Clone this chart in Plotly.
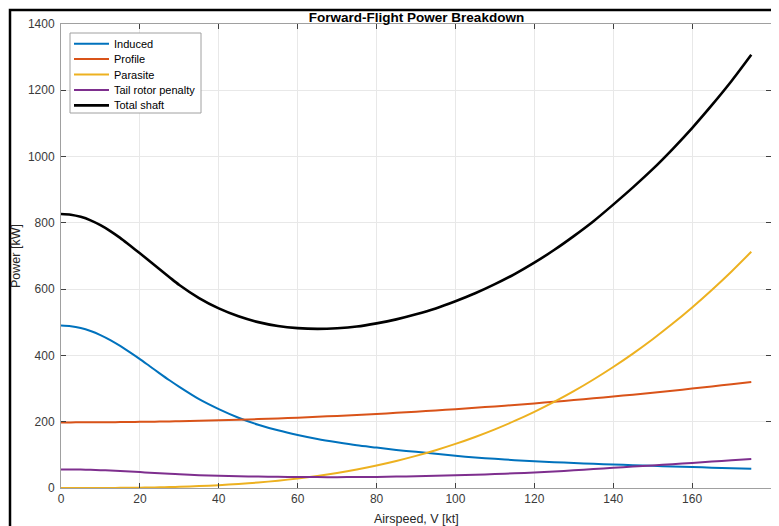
import plotly.graph_objects as go

airspeed_kt = [0, 2.5, 5, 7.5, 10, 12.5, 15, 17.5, 20, 22.5, 25, 27.5, 30, 35, 40, 45,
               50, 55, 60, 65, 70, 75, 80, 85, 90, 95, 100, 105, 110, 115, 120, 125,
               130, 135, 140, 145, 150, 155, 160, 165, 170, 175]

induced_kw = [490, 488.2, 482.7, 473.7, 461.5, 446.3, 428.7, 409.3, 389, 367.5, 346, 325,
              305, 268, 238, 212, 191, 174, 160, 148, 138, 129, 122, 115, 109, 103, 97,
              92, 88, 84, 81, 78, 75.5, 73, 71, 69, 67, 65, 63.2, 61.4, 59.6, 57.8]

profile_kw = [198.0, 198.0, 198.1, 198.2, 198.4, 198.6, 198.9, 199.2, 199.6, 200.0,
              200.5, 201.0, 201.6, 202.9, 204.4, 206.1, 208.0, 210.0, 212.3, 214.8,
              217.5, 220.4, 223.5, 226.8, 230.2, 233.9, 237.8, 241.9, 246.2, 250.6,
              255.3, 260.2, 265.3, 270.5, 276.0, 281.7, 287.6, 293.6, 299.9, 306.4,
              313.0, 319.9]

parasite_kw = [0.0, 0.0, 0.0, 0.1, 0.1, 0.3, 0.4, 0.7, 1.1, 1.5, 2.1, 2.8, 3.6, 5.7,
               8.5, 12.1, 16.6, 22.1, 28.7, 36.5, 45.6, 56.1, 68.1, 81.7, 97.0, 114.0,
               133.0, 154.0, 177.0, 202.3, 229.8, 259.8, 292.2, 327.3, 365.0, 405.5,
               448.9, 495.3, 544.8, 597.5, 653.4, 712.8]

tail_kw = [56.1, 55.9, 55.5, 54.8, 53.8, 52.6, 51.2, 49.6, 47.9, 46.3, 44.6, 43.0, 41.5,
           38.8, 36.7, 35.4, 34.5, 33.8, 33.2, 32.9, 32.8, 33.0, 33.5, 34.4, 35.5, 36.8,
           38.3, 40.0, 42.0, 44.2, 46.5, 49.8, 53.3, 57.0, 60.8, 64.5, 68.2, 72.0,
           75.8, 79.7, 83.6, 87.6]

total_kw = [826.8, 824.6, 818.1, 807.6, 793.1, 775.3, 754.7, 731.5, 708.0, 684.0,
            660.0, 636.0, 612.5, 573.0, 541.8, 518.0, 500.5, 488.8, 482.4, 480.2,
            482.1, 487.2, 496.8, 508.8, 524.1, 541.9, 563.5, 587.5, 615.0, 645.5,
            680.0, 718.0, 760.0, 805.0, 855.0, 907.0, 962.0, 1022.0, 1086.0, 1155.0,
            1228.0, 1307.0]

series_names = ["Induced", "Profile", "Parasite", "Tail rotor penalty", "Total shaft"]
series_values = [induced_kw, profile_kw, parasite_kw, tail_kw, total_kw]
series_colors = ["#0072BD", "#D95319", "#EDB120", "#7E2F8E", "#000000"]
series_widths = [2, 2, 2, 2, 2.6]

x_ticks = [0, 20, 40, 60, 80, 100, 120, 140, 160, 180]
y_ticks = [0, 200, 400, 600, 800, 1000, 1200, 1400]

FONT = "Liberation Sans, Arial, Helvetica, sans-serif"

# page body has an 8px margin: lay the figure out in page pixels minus 8
W, H = 771, 518
L, T, PW, PH = 53, 16, 710, 464


def px_x(fx):
    return (fx - L) / PW


def px_y(fy):
    return (T + PH - fy) / PH


fig = go.Figure()
for name, vals, col, w in zip(series_names, series_values, series_colors, series_widths):
    fig.add_trace(go.Scatter(x=airspeed_kt, y=vals, mode="lines", name=name,
                             line=dict(color=col, width=w, shape="spline", smoothing=0.8),
                             showlegend=False))

axis_common = dict(
    showgrid=True, gridcolor="#e8e8e8", gridwidth=1,
    showline=True, linecolor="#a0a0a0", linewidth=1, mirror="allticks",
    ticks="inside", ticklen=5, tickcolor="#404040", tickwidth=1,
    zeroline=False, automargin=False,
    tickfont=dict(family=FONT, size=12, color="#3a3a3a"),
)

fig.update_layout(
    width=W, height=H,
    margin=dict(l=L, r=W - L - PW, t=T, b=H - T - PH),
    paper_bgcolor="white", plot_bgcolor="white",
    font=dict(family=FONT, color="#262626"),
    title=dict(text="<b>Forward-Flight Power Breakdown</b>", x=408.5 / W,
               xanchor="center", y=1 - 8.8 / H, yanchor="middle", yref="container",
               font=dict(family=FONT, size=13.5, color="#000000")),
    xaxis=dict(range=[0, 180], tickvals=x_ticks, ticktext=[str(v) for v in x_ticks],
               **axis_common),
    yaxis=dict(range=[0, 1400], tickvals=y_ticks, ticktext=[str(v) for v in y_ticks],
               ticklabelstandoff=3, **axis_common),
    showlegend=False,
)

# axis titles
fig.add_annotation(text="Airspeed, V [kt]", xref="paper", yref="paper",
                   x=0.5, y=px_y(511), xanchor="center", yanchor="middle",
                   showarrow=False, font=dict(family=FONT, size=12.5, color="#262626"))
fig.add_annotation(text="Power [kW]", xref="paper", yref="paper", textangle=-90,
                   x=px_x(8), y=0.5, xanchor="center", yanchor="middle",
                   showarrow=False, font=dict(family=FONT, size=12.5, color="#262626"))

# legend (MATLAB-style compact box)
fig.add_shape(type="rect", xref="paper", yref="paper",
              x0=px_x(62), x1=px_x(193), y0=px_y(105), y1=px_y(25),
              line=dict(color="#a0a0a0", width=1), fillcolor="white", layer="above")
row_y = [35.7, 51.1, 66.6, 82.0, 97.4]
for name, col, w, ry in zip(series_names, series_colors, series_widths, row_y):
    fig.add_shape(type="line", xref="paper", yref="paper",
                  x0=px_x(66), x1=px_x(101), y0=px_y(ry), y1=px_y(ry),
                  line=dict(color=col, width=w), layer="above")
    fig.add_annotation(text=name, xref="paper", yref="paper", x=px_x(104), y=px_y(ry),
                       xanchor="left", yanchor="middle", showarrow=False,
                       font=dict(family=FONT, size=11, color="#000000"))

# outer black frame (screenshot border at top and left)
fig.add_shape(type="rect", xref="paper", yref="paper",
              x0=px_x(2), x1=px_x(W + 40), y0=px_y(H + 40), y1=px_y(2),
              line=dict(color="black", width=2.5), fillcolor="rgba(0,0,0,0)", layer="above")

fig.write_html("out.html")
